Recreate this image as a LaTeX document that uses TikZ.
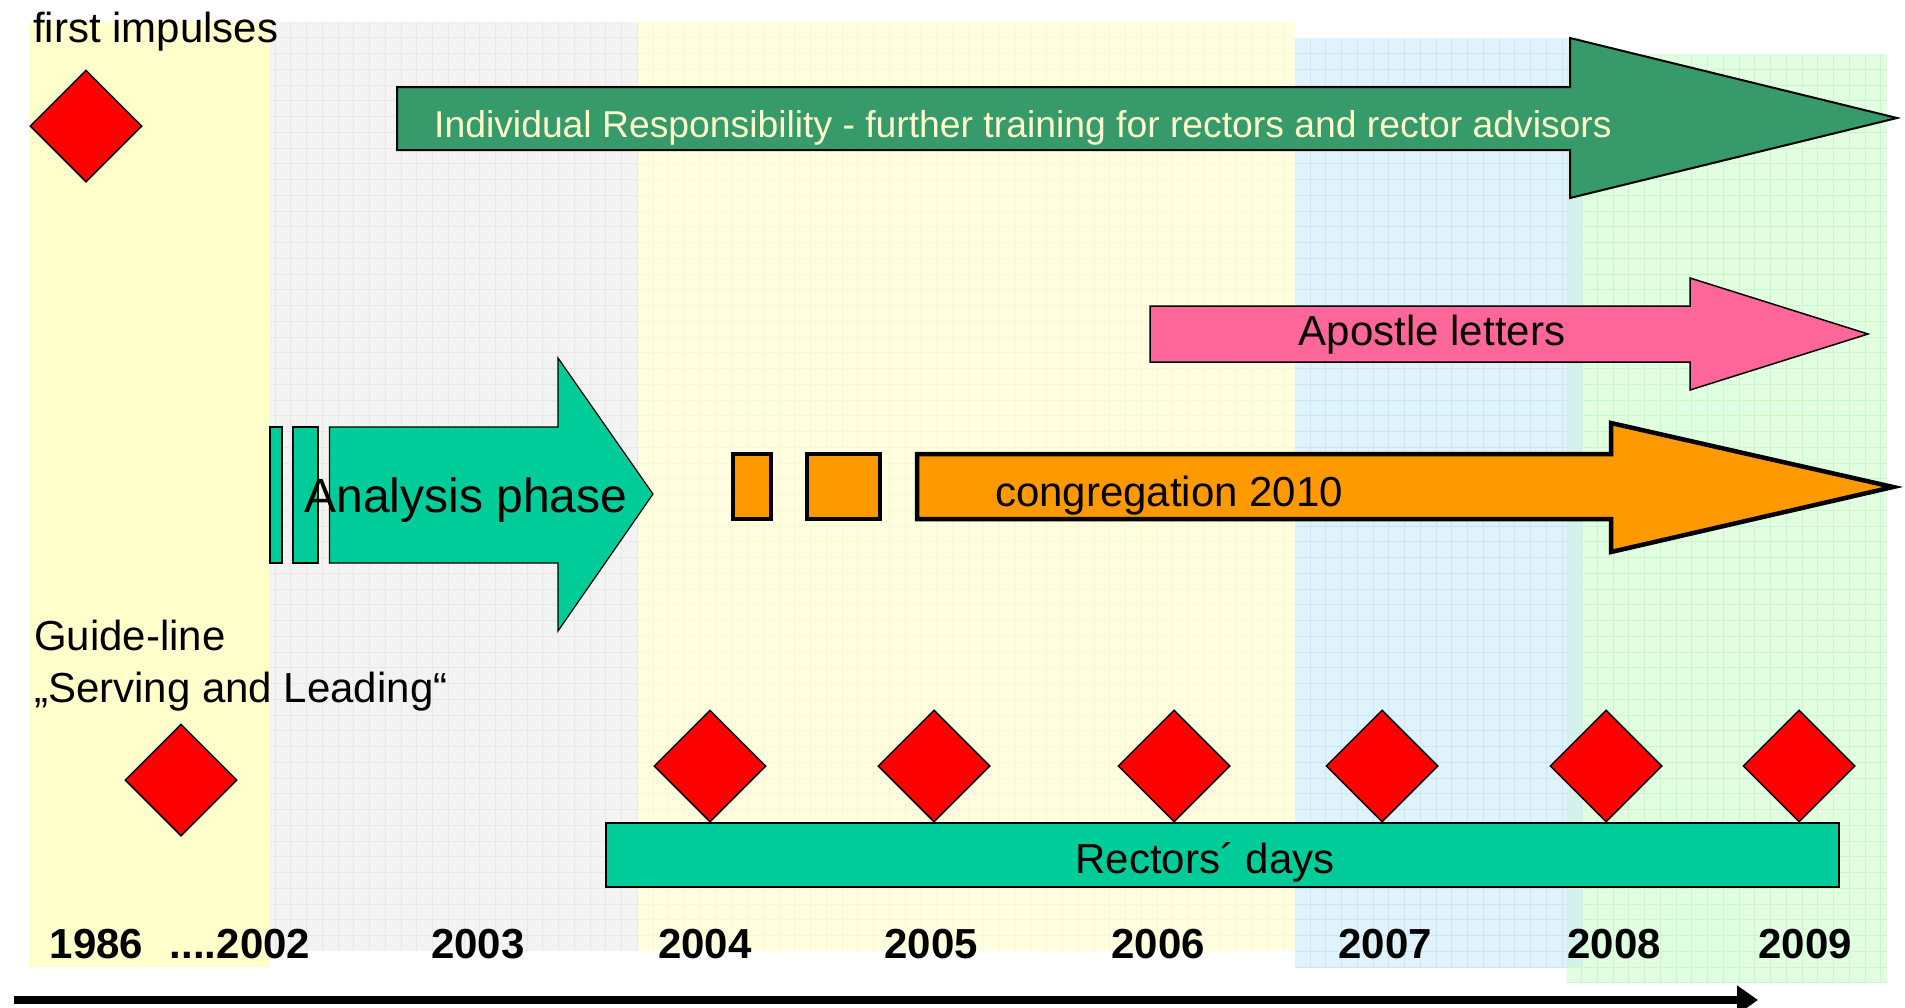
\documentclass[tikz,border=0pt]{standalone}
\usepackage{fontspec}
\setmainfont{Liberation Sans}
\usetikzlibrary{shapes.geometric,arrows.meta}
\definecolor{panelA}{HTML}{FFFFCC}
\definecolor{panelB}{HTML}{F3F3F3}
\definecolor{gridB}{HTML}{E7E7E7}
\definecolor{panelC}{HTML}{FFFFE0}
\definecolor{gridC}{HTML}{F8F8D4}
\definecolor{panelD}{HTML}{E0F2FC}
\definecolor{gridD}{HTML}{C8E6F8}
\definecolor{panelE}{HTML}{E2FFE2}
\definecolor{gridE}{HTML}{C8FAC8}
\definecolor{overlapDE}{HTML}{D2EEEE}
\definecolor{darkgreenx}{HTML}{379A6A}
\definecolor{tealx}{HTML}{00CC99}
\definecolor{pinkx}{HTML}{FF6699}
\definecolor{orangex}{HTML}{FF9900}
\definecolor{lightyelx}{HTML}{FFFFCC}
\begin{document}
\begin{tikzpicture}[x=1pt,y=-1pt,
  lbl/.style={font=\fontsize{42}{50}\selectfont, inner sep=0pt},
  yr/.style={font=\fontsize{42}{50}\selectfont\bfseries, inner sep=0pt, anchor=base},
  dia/.style={diamond, draw=black, line width=1.5pt, fill=red, minimum width=112pt, minimum height=112pt, inner sep=0pt},
  gridline/.style={line width=0.8pt}
]
\useasboundingbox (0,0) rectangle (1905,1007);
\fill[white] (0,0) rectangle (1905,1007);

% background panels
\fill[panelA] (29,22) rectangle (270,967);
\fill[panelB] (270,22) rectangle (638,951);
\foreach \x in {275,290.75,...,638} \draw[gridB,gridline] (\x,22) -- (\x,951);
\foreach \y in {37.75,53.5,...,951} \draw[gridB,gridline] (270,\y) -- (638,\y);
\fill[panelC] (638,22) rectangle (1295,951);
\foreach \x in {653,668.75,...,1295} \draw[gridC,gridline] (\x,22) -- (\x,951);
\foreach \y in {37.75,53.5,...,951} \draw[gridC,gridline] (638,\y) -- (1295,\y);
\fill[panelD] (1295,38) rectangle (1583,967);
\foreach \x in {1310,1325.75,...,1583} \draw[gridD,gridline] (\x,38) -- (\x,967);
\foreach \y in {53.5,69.25,...,967} \draw[gridD,gridline] (1295,\y) -- (1583,\y);
\fill[panelE] (1567,54) rectangle (1887,983);
\foreach \x in {1581.5,1597.25,...,1887} \draw[gridE,gridline] (\x,54) -- (\x,983);
\foreach \y in {69.25,85,...,983} \draw[gridE,gridline] (1567,\y) -- (1887,\y);
\fill[overlapDE,opacity=0.8] (1567,54) rectangle (1583,967);

% first impulses
\node[lbl, anchor=base west] (fi) at (33,42) {first impulses};
\node[dia] (d0) at (86,126) {};

% Individual responsibility arrow
\draw[fill=darkgreenx, line width=2pt, line join=miter]
  (397,87) -- (1570,87) -- (1570,38) -- (1897,118) -- (1570,198) -- (1570,150) -- (397,150) -- cycle;
\node[inner sep=0pt, anchor=base west, text=lightyelx, font=\fontsize{37.3}{44}\selectfont] (ir) at (434,137)
  {Individual Responsibility - further training for rectors and rector advisors};

% Apostle letters arrow
\draw[fill=pinkx, line width=1.5pt, line join=miter]
  (1150,306) -- (1690,306) -- (1690,278) -- (1868,334) -- (1690,390) -- (1690,362) -- (1150,362) -- cycle;
\node[lbl, anchor=base] (al) at (1432,345) {Apostle letters};

% Analysis phase arrow
\draw[fill=tealx, line width=1.2pt] (270,427) rectangle (282,563);
\draw[fill=tealx, line width=1.2pt] (293,427) rectangle (318,563);
\draw[fill=tealx, line width=1.2pt, line join=miter]
  (329.5,427) -- (558,427) -- (558,358) -- (653,494) -- (558,631) -- (558,563) -- (329.5,563) -- cycle;
\node[inner sep=0pt, anchor=base, font=\fontsize{48}{56}\selectfont] (ap) at (466,512) {Analysis phase};

% congregation arrow
\draw[fill=orangex, line width=4.5pt] (733,454) rectangle (771,519);
\draw[fill=orangex, line width=4.5pt] (807,454) rectangle (880,519);
\draw[fill=orangex, line width=4.5pt, line join=miter]
  (917,454) -- (1611,454) -- (1611,423) -- (1893,487) -- (1611,552) -- (1611,519) -- (917,519) -- cycle;
\node[lbl, anchor=base] (cg) at (1169,506) {congregation 2010};

% Guide-line
\node[lbl, anchor=base west] (gl1) at (34,650) {Guide-line};
\node[lbl, anchor=base west] (gl2) at (34,702) {„Serving and Leading“};
\node[dia] (d1) at (181,780) {};

% Rectors days
\draw[fill=tealx, line width=2pt] (606,823) rectangle (1839,887);
\node[lbl, anchor=base] (rd) at (1205,873) {Rectors´ days};
\foreach \x/\n in {710/r4,934/r5,1174/r6,1382/r7,1606/r8,1799/r9}
  \node[dia] (\n) at (\x,766) {};

% years
\node[yr] (y1986) at (96.5,958) {1986};
\node[yr] (y2002) at (240,958) {....2002};
\node[yr] (y2003) at (478,958) {2003};
\node[yr] (y2004) at (705,958) {2004};
\node[yr] (y2005) at (931,958) {2005};
\node[yr] (y2006) at (1158,958) {2006};
\node[yr] (y2007) at (1385,958) {2007};
\node[yr] (y2008) at (1614,958) {2008};
\node[yr] (y2009) at (1805,958) {2009};

% timeline
\coordinate (t0) at (14,1000);
\coordinate (t1) at (1758,1000);
\draw[line width=8pt, -{Triangle[length=21pt 0 0, width=28pt 0 0]}] (t0) -- (t1);
\end{tikzpicture}
\end{document}
